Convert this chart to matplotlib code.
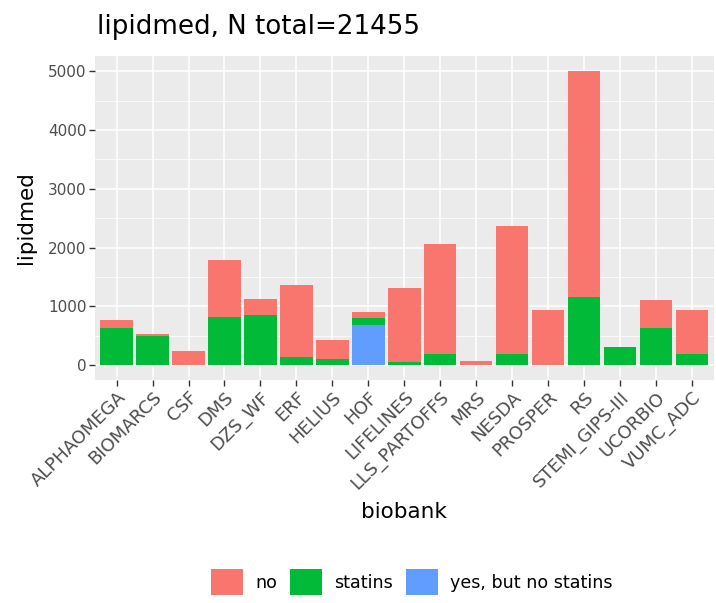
import numpy as np
import matplotlib
matplotlib.use('Agg')
import matplotlib.pyplot as plt
from matplotlib.patches import Patch
from matplotlib.ticker import MultipleLocator

biobanks = ['ALPHAOMEGA', 'BIOMARCS', 'CSF', 'DMS', 'DZS_WF', 'ERF', 'HELIUS',
            'HOF', 'LIFELINES', 'LLS_PARTOFFS', 'MRS', 'NESDA', 'PROSPER', 'RS',
            'STEMI_GIPS-III', 'UCORBIO', 'VUMC_ADC']
# stacked from bottom: yes-but-no-statins, statins, no
yes_no_statins = [0, 0, 0, 0, 0, 0, 0, 685, 0, 0, 0, 0, 0, 0, 0, 0, 0]
statins = [640, 499, 0, 821, 849, 142, 108, 114, 57, 193, 0, 193, 0, 1155, 306, 634, 193]
no = [136, 28, 244, 969, 278, 1228, 328, 107, 1263, 1874, 79, 2174, 934, 3851, 0, 470, 741]
n_total = 21455

colors = {'no': '#F8766D', 'statins': '#00BA38', 'yes, but no statins': '#619CFF'}

fig = plt.figure(figsize=(7.16, 6.03), dpi=100)
ax = fig.add_axes([0.1327, 0.370, 0.864, 0.537])

x = np.arange(1, len(biobanks) + 1)
b1 = np.array(yes_no_statins)
b2 = b1 + np.array(statins)
ax.bar(x, yes_no_statins, width=0.9, color=colors['yes, but no statins'], zorder=3)
ax.bar(x, statins, width=0.9, bottom=b1, color=colors['statins'], zorder=3)
ax.bar(x, no, width=0.9, bottom=b2, color=colors['no'], zorder=3)

totals = b2 + np.array(no)
ymax = totals.max()
ax.set_ylim(-0.05 * ymax, 1.05 * ymax)
ax.set_xlim(0.4, len(biobanks) + 0.6)

ax.set_facecolor('#EBEBEB')
for s in ax.spines.values():
    s.set_visible(False)
ax.yaxis.set_major_locator(MultipleLocator(1000))
ax.yaxis.set_minor_locator(MultipleLocator(500))
ax.grid(which='major', color='white', lw=1.1, zorder=0)
ax.grid(which='minor', axis='y', color='white', lw=0.55, zorder=0)
ax.set_axisbelow(True)

ax.set_xticks(x)
ax.set_xticklabels(biobanks, rotation=45, ha='right', va='top',
                   rotation_mode='anchor')
ax.tick_params(axis='both', which='major', colors='#333333', labelcolor='#4D4D4D',
               length=4, width=1.0, pad=2)
ax.tick_params(axis='y', which='major', labelsize=11)
ax.tick_params(axis='x', which='major', labelsize=13)
ax.tick_params(axis='y', which='minor', length=0)

ax.set_xlabel('biobank', fontsize=15.5, labelpad=6)
ax.set_ylabel('lipidmed', fontsize=15.5, labelpad=9)
fig.text(0.135, 0.955, f'lipidmed, N total={n_total}', fontsize=18.8,
         ha='left', va='center')

handles = [Patch(facecolor=colors[k], label=k) for k in colors]
fig.legend(handles=handles, loc='center', bbox_to_anchor=(0.575, 1 - 582 / 603),
           ncol=3, frameon=False, fontsize=12.6, handlelength=1.83,
           handleheight=1.83, handletextpad=0.69, columnspacing=0.75)

fig.savefig('out.png', dpi=100)
